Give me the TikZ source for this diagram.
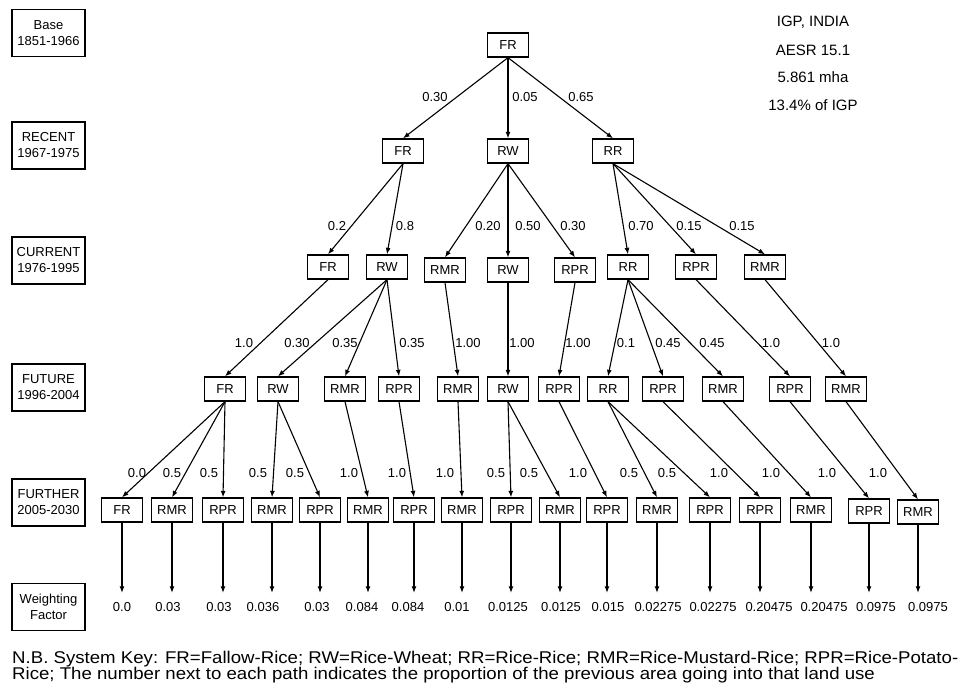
\documentclass[tikz,border=0pt]{standalone}
\usepackage{fontspec}
\setmainfont{Liberation Sans}
\newfontfamily\notefont[FakeStretch=1.096]{Liberation Sans}
\newcommand\mynotesetup{\notefont\fontsize{17}{15.5}\selectfont\lineskiplimit -20pt\relax}
\usetikzlibrary{arrows.meta}
\begin{document}
\begin{tikzpicture}[x=1pt,y=-1pt,
 sys/.style={draw,line width=1.3pt,minimum width=41pt,minimum height=24pt,inner sep=0pt,font=\fontsize{13}{15}\selectfont},
 per/.style={draw,line width=1.4pt,minimum width=73pt,minimum height=47pt,inner sep=0pt,align=center,font=\fontsize{13}{16}\selectfont},
 lbl/.style={inner sep=0pt,font=\fontsize{13}{15}\selectfont},
 wt/.style={inner sep=0pt,minimum height=28pt,font=\fontsize{13}{15}\selectfont},
 arr/.style={-{Latex[length=6.5pt,width=5pt]},line width=1.1pt},
 info/.style={inner sep=0pt,font=\fontsize{15}{18}\selectfont},
 note/.style={inner sep=0pt,anchor=north west,align=left,font=\mynotesetup}]
\useasboundingbox (0,0) rectangle (962,693);
% period boxes
\node[per] (p0) at (48.5,33) {Base\\1851-1966};
\node[per] (p1) at (48.5,145.5) {RECENT\\1967-1975};
\node[per] (p2) at (48.5,260.5) {CURRENT\\1976-1995};
\node[per] (p3) at (48.5,387.5) {FUTURE\\1996-2004};
\node[per] (p4) at (48.5,502.5) {FURTHER\\2005-2030};
\node[per] (p5) at (48.5,607) {Weighting\\Factor};
% info
\node[info] (i1) at (813,22) {IGP, INDIA};
\node[info] (i2) at (813,50) {AESR 15.1};
\node[info] (i3) at (813,77) {5.861 mha};
\node[info] (i4) at (813,105) {13.4\% of IGP};
% root
\node[sys] (r) at (508,45) {FR};
% level 1
\node[sys] (a1) at (403,151) {FR};
\node[sys] (a2) at (508,151) {RW};
\node[sys] (a3) at (613,151) {RR};
% level 2
\node[sys] (b1) at (328,267) {FR};
\node[sys] (b2) at (387,267) {RW};
\node[sys] (b3) at (445,270) {RMR};
\node[sys] (b4) at (508,270) {RW};
\node[sys] (b5) at (575,270) {RPR};
\node[sys] (b6) at (628,267) {RR};
\node[sys] (b7) at (696,267) {RPR};
\node[sys] (b8) at (765,267) {RMR};
% level 3
\node[sys] (c1) at (225,389) {FR};
\node[sys] (c2) at (278,389) {RW};
\node[sys] (c3) at (345,389) {RMR};
\node[sys] (c4) at (399,389) {RPR};
\node[sys] (c5) at (458,389) {RMR};
\node[sys] (c6) at (508,389) {RW};
\node[sys] (c7) at (559,389) {RPR};
\node[sys] (c8) at (608,389) {RR};
\node[sys] (c9) at (663,389) {RPR};
\node[sys] (c10) at (723,389) {RMR};
\node[sys] (c11) at (790,389) {RPR};
\node[sys] (c12) at (846,389) {RMR};
% level 4
\node[sys] (d1) at (122,510) {FR};
\node[sys] (d2) at (172,510) {RMR};
\node[sys] (d3) at (223,510) {RPR};
\node[sys] (d4) at (272,510) {RMR};
\node[sys] (d5) at (320,510) {RPR};
\node[sys] (d6) at (368,510) {RMR};
\node[sys] (d7) at (414,510) {RPR};
\node[sys] (d8) at (462,510) {RMR};
\node[sys] (d9) at (511,510) {RPR};
\node[sys] (d10) at (560,510) {RMR};
\node[sys] (d11) at (607,510) {RPR};
\node[sys] (d12) at (657,510) {RMR};
\node[sys] (d13) at (710,510) {RPR};
\node[sys] (d14) at (760,510) {RPR};
\node[sys] (d15) at (811,510) {RMR};
\node[sys] (d16) at (869,511) {RPR};
\node[sys] (d17) at (918,512) {RMR};
% weights
\node[wt] (w1) at (122,607) {0.0};
\node[wt] (w2) at (168,607) {0.03};
\node[wt] (w3) at (219,607) {0.03};
\node[wt] (w4) at (263,607) {0.036};
\node[wt] (w5) at (317,607) {0.03};
\node[wt] (w6) at (362,607) {0.084};
\node[wt] (w7) at (408,607) {0.084};
\node[wt] (w8) at (457,607) {0.01};
\node[wt] (w9) at (508,607) {0.0125};
\node[wt] (w10) at (561,607) {0.0125};
\node[wt] (w11) at (608,607) {0.015};
\node[wt] (w12) at (658,607) {0.02275};
\node[wt] (w13) at (713,607) {0.02275};
\node[wt] (w14) at (769,607) {0.20475};
\node[wt] (w15) at (824,607) {0.20475};
\node[wt] (w16) at (876,607) {0.0975};
\node[wt] (w17) at (928,607) {0.0975};
% edges level 1
\draw[arr] (r.south) -- (a1.north);
\draw[arr] (r.south) -- (a2.north);
\draw[arr] (r.south) -- (a3.north);
% edges level 2
\draw[arr] (a1.south) -- (b1.north);
\draw[arr] (a1.south) -- (b2.north);
\draw[arr] (a2.south) -- (b3.north);
\draw[arr] (a2.south) -- (b4.north);
\draw[arr] (a2.south) -- (b5.north);
\draw[arr] (a3.south) -- (b6.north);
\draw[arr] (a3.south) -- (b7.north);
\draw[arr] (a3.south) -- (b8.north);
% edges level 3
\draw[arr] (b1.south) -- (c1.north);
\draw[arr] (b2.south) -- (c2.north);
\draw[arr] (b2.south) -- (c3.north);
\draw[arr] (b2.south) -- (c4.north);
\draw[arr] (b3.south) -- (c5.north);
\draw[arr] (b4.south) -- (c6.north);
\draw[arr] (b5.south) -- (c7.north);
\draw[arr] (b6.south) -- (c8.north);
\draw[arr] (b6.south) -- (c9.north);
\draw[arr] (b6.south) -- (c10.north);
\draw[arr] (b7.south) -- (c11.north);
\draw[arr] (b8.south) -- (c12.north);
% edges level 4
\draw[arr] (c1.south) -- (d1.north);
\draw[arr] (c1.south) -- (d2.north);
\draw[arr] (c1.south) -- (d3.north);
\draw[arr] (c2.south) -- (d4.north);
\draw[arr] (c2.south) -- (d5.north);
\draw[arr] (c3.south) -- (d6.north);
\draw[arr] (c4.south) -- (d7.north);
\draw[arr] (c5.south) -- (d8.north);
\draw[arr] (c6.south) -- (d9.north);
\draw[arr] (c6.south) -- (d10.north);
\draw[arr] (c7.south) -- (d11.north);
\draw[arr] (c8.south) -- (d12.north);
\draw[arr] (c8.south) -- (d13.north);
\draw[arr] (c9.south) -- (d14.north);
\draw[arr] (c10.south) -- (d15.north);
\draw[arr] (c11.south) -- (d16.north);
\draw[arr] (c12.south) -- (d17.north);
% weight arrows
\foreach \i in {1,...,17} {\draw[arr] (d\i.south) -- (d\i.south |- w\i.north);}
% labels level 1
\node[lbl] (e1) at (435,97) {0.30};
\node[lbl] (e2) at (525,97) {0.05};
\node[lbl] (e3) at (581,97) {0.65};
% labels level 2
\node[lbl] (f1) at (337,226) {0.2};
\node[lbl] (f2) at (405,226) {0.8};
\node[lbl] (f3) at (488,226) {0.20};
\node[lbl] (f4) at (528,226) {0.50};
\node[lbl] (f5) at (573,226) {0.30};
\node[lbl] (f6) at (641,226) {0.70};
\node[lbl] (f7) at (689,226) {0.15};
\node[lbl] (f8) at (742,226) {0.15};
% labels level 3
\node[lbl] (g1) at (244,343) {1.0};
\node[lbl] (g2) at (297,343) {0.30};
\node[lbl] (g3) at (345,343) {0.35};
\node[lbl] (g4) at (412,343) {0.35};
\node[lbl] (g5) at (468,343) {1.00};
\node[lbl] (g6) at (522,343) {1.00};
\node[lbl] (g7) at (578,343) {1.00};
\node[lbl] (g8) at (626,343) {0.1};
\node[lbl] (g9) at (668,343) {0.45};
\node[lbl] (g10) at (712,343) {0.45};
\node[lbl] (g11) at (771,343) {1.0};
\node[lbl] (g12) at (831,343) {1.0};
% labels level 4
\node[lbl] (h1) at (137,473) {0.0};
\node[lbl] (h2) at (172,473) {0.5};
\node[lbl] (h3) at (209,473) {0.5};
\node[lbl] (h4) at (258,473) {0.5};
\node[lbl] (h5) at (295,473) {0.5};
\node[lbl] (h6) at (349,473) {1.0};
\node[lbl] (h7) at (397,473) {1.0};
\node[lbl] (h8) at (445,473) {1.0};
\node[lbl] (h9) at (496,473) {0.5};
\node[lbl] (h10) at (529,473) {0.5};
\node[lbl] (h11) at (578,473) {1.0};
\node[lbl] (h12) at (629,473) {0.5};
\node[lbl] (h13) at (667,473) {0.5};
\node[lbl] (h14) at (719,473) {1.0};
\node[lbl] (h15) at (771,473) {1.0};
\node[lbl] (h16) at (827,473) {1.0};
\node[lbl] (h17) at (878,473) {1.0};
% note
\node[note] (n1) at (12,651) {N.B. System Key: FR=Fallow-Rice; RW=Rice-Wheat; RR=Rice-Rice; RMR=Rice-Mustard-Rice; RPR=Rice-Potato-\\Rice; The number next to each path indicates the proportion of the previous area going into that land use};
\end{tikzpicture}
\end{document}
